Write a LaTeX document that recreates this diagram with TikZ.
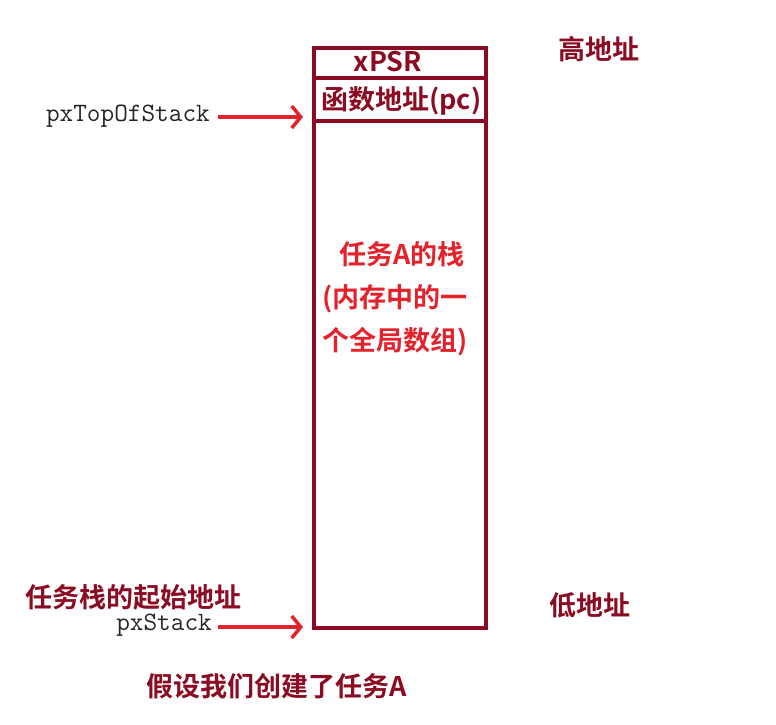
\documentclass[tikz,border=0pt]{standalone}
\usepackage{fontspec}
\newfontfamily\cjk{Noto Sans CJK SC}[BoldFont={Noto Sans CJK SC Bold}]
\usetikzlibrary{arrows.meta}
\definecolor{darkred}{HTML}{8B0C22}
\definecolor{brightred}{HTML}{E4222C}
\begin{document}
\begin{tikzpicture}[x=1pt,y=-1pt,
  boxline/.style={draw=darkred,line width=4pt},
  dlabel/.style={text=darkred,font=\cjk\bfseries\fontsize{27}{30}\selectfont,inner sep=0pt},
  rlabel/.style={text=brightred,font=\cjk\bfseries\fontsize{27}{43}\selectfont,inner sep=0pt},
  codelabel/.style={text=black!85,font=\ttfamily\fontsize{26.5}{30}\selectfont,inner sep=0pt},
  redarrow/.style={draw=brightred,line width=3.5pt,-{Straight Barb[length=9pt,width=22pt,line width=3.5pt]}}]
\useasboundingbox (0,0) rectangle (776,724);
% stack box
\node[boxline,minimum width=172pt,minimum height=580pt,inner sep=0pt,anchor=north west] (stack) at (312,46) {};
\coordinate (d1l) at (312,78);
\coordinate (d1r) at (487,78);
\coordinate (d2l) at (312,121);
\coordinate (d2r) at (487,121);
\draw[boxline] (d1l) -- (d1r);
\draw[boxline] (d2l) -- (d2r);
\node[dlabel] (xpsr) at (388,62) {xPSR};
\node[dlabel,anchor=west] (pc) at (321,101) {函数地址(pc)};
\node[rlabel,align=left,anchor=north west] (taskA) at (322,241) {\hspace*{17pt}任务A的栈\\(内存中的一\\个全局数组)};
% right labels
\node[dlabel,anchor=west] (high) at (558,49) {高地址};
\node[dlabel,anchor=west] (low) at (549,605) {低地址};
% left labels
\node[codelabel,anchor=east] (top) at (210,116) {pxTopOfStack};
\node[codelabel,anchor=east] (pxs) at (212,625) {pxStack};
\node[dlabel,anchor=west] (start) at (25,597) {任务栈的起始地址};
\node[dlabel,anchor=west] (caption) at (146,686) {假设我们创建了任务A};
% arrows
\coordinate (topend) at (303,117);
\coordinate (stkend) at (303,627);
\draw[redarrow] (top.east |- topend) ++(8,0) -- (topend);
\draw[redarrow] (pxs.east |- stkend) ++(6,0) -- (stkend);
\end{tikzpicture}
\end{document}
